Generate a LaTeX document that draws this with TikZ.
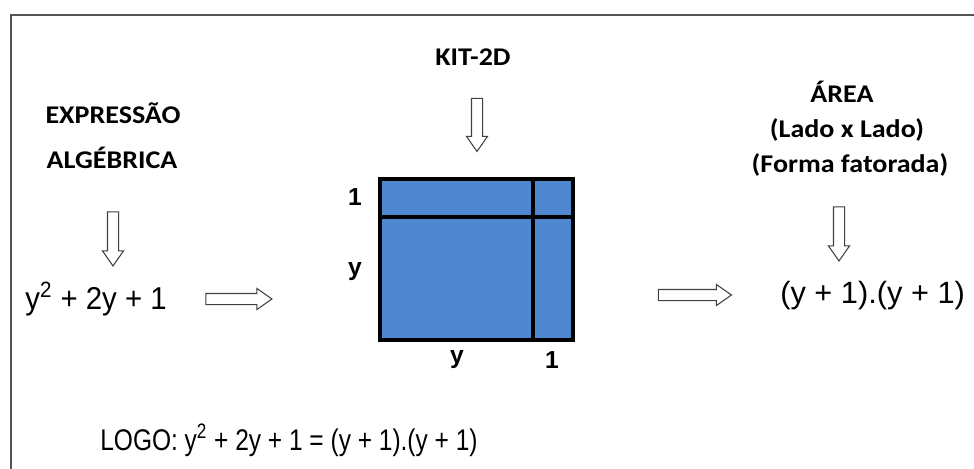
\documentclass[tikz,border=0pt]{standalone}
\usepackage{fontspec}
\setmainfont{Liberation Sans}
\newfontfamily\headfont[FakeStretch=1.1]{Carlito}
\newfontfamily\polyfont[FakeStretch=0.93]{Liberation Sans}
\newfontfamily\logofont[FakeStretch=0.82]{Liberation Sans}
\definecolor{kitblue}{RGB}{79,136,207}
\definecolor{framegray}{RGB}{85,85,85}
\usetikzlibrary{shapes.arrows,positioning}

\begin{document}
\begin{tikzpicture}[x=0.02cm, y=-0.02cm,
    headtext/.style={inner sep=0pt, font=\headfont\bfseries\fontsize{14.5}{16}\selectfont},
    sidelabel/.style={inner sep=0pt, font=\bfseries\fontsize{14}{16}\selectfont},
    formula/.style={inner sep=0pt, anchor=base west},
    hollowarrow/.style={single arrow, draw=black!75, fill=white, line width=0.6pt,
                        inner sep=0.1cm, single arrow head extend=0.1cm,
                        single arrow tip angle=70, outer sep=0pt}
  ]
    \useasboundingbox (0,0) rectangle (974,468);

    % frame
    \draw[framegray, line width=1.3pt] (11,470) -- (11,15) -- (976,15);

    % headings
    \node[headtext] (kittitle) at (473,57) {KIT-2D};
    \node[headtext] (expr1) at (113,113) {EXPRESSÃO};
    \node[headtext] (expr2) at (112,158) {ALGÉBRICA};
    \node[headtext] (area1) at (842,92) {ÁREA};
    \node[headtext] (area2) at (847,130) {(Lado x Lado)};
    \node[headtext] (area3) at (850,165) {(Forma fatorada)};

    % hollow arrows
    \node[hollowarrow, minimum height=1.08cm, shape border rotate=270] (downleft) at (113,235) {};
    \node[hollowarrow, minimum height=1.06cm, shape border rotate=270] (downkit) at (477,121) {};
    \node[hollowarrow, minimum height=1.08cm, shape border rotate=270] (downright) at (839,230) {};
    \node[hollowarrow, minimum height=1.32cm] (rightleft) at (235,299) {};
    \node[hollowarrow, minimum height=1.46cm] (rightright) at (691,295) {};

    % the kit: y+1 by y+1
    \draw[fill=kitblue, line width=2.3pt] (380,179) rectangle (573,340);
    \draw[line width=2.3pt] (380,217) -- (573,217);
    \draw[line width=2.3pt] (533,179) -- (533,340);

    % side labels
    \node[sidelabel] (top1) at (355,197) {1};
    \node[sidelabel] (lefty) at (355,272) {y};
    \node[sidelabel] (boty) at (457,360) {y};
    \node[sidelabel] (bot1) at (552,360) {1};

    % expressions
    \node[formula, font=\polyfont\fontsize{18}{20}\selectfont] (poly) at (25,309)
      {y\textsuperscript{2} + 2y + 1};
    \node[formula, font=\fontsize{17.5}{20}\selectfont] (factored) at (780,303)
      {(y + 1).(y + 1)};
    \node[formula, font=\logofont\fontsize{17}{19}\selectfont] (logo) at (100,450)
      {LOGO: y\textsuperscript{2} + 2y + 1 = (y + 1).(y + 1)};
  \end{tikzpicture}
\end{document}
